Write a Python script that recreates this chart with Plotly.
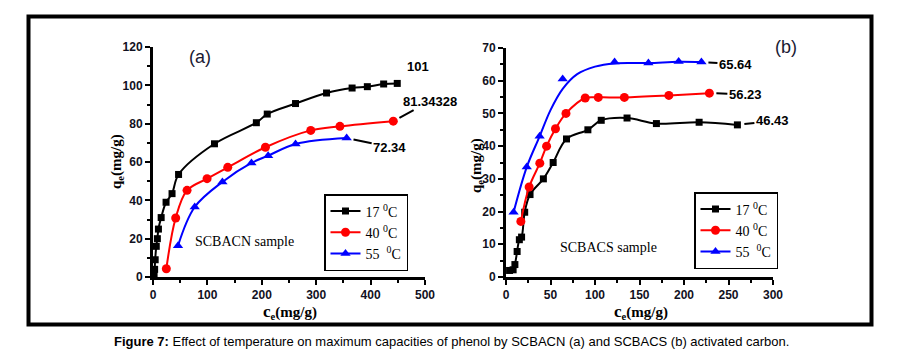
import plotly.graph_objects as go

# ---------------- data: panel (a) SCBACN ----------------
a_ce_17 = [2, 3, 4, 6, 8, 10, 15, 24, 35, 47, 113, 190, 210, 262, 319, 366, 394, 424, 449]
a_qe_17 = [1, 4, 9, 16, 20, 25, 31, 39, 43.5, 53.5, 69.5, 80.5, 85, 90.5, 96, 98.6, 99.3, 100.7, 101]
a_ce_40 = [24.5, 41.7, 62.6, 99.4, 137.4, 206.7, 290, 343.6, 441.7]
a_qe_40 = [4.3, 30.8, 45.2, 51.3, 57.2, 67.7, 76.5, 78.6, 81.3]
a_ce_55 = [46, 76.7, 127.6, 181, 211.7, 262, 356]
a_qe_55 = [16.3, 36.5, 49.6, 59.5, 63.3, 69.4, 72.5]

# ---------------- data: panel (b) SCBACS ----------------
b_ce_17 = [4, 8, 10, 12.5, 15, 17.5, 21, 27, 42, 53, 68, 92, 107, 136, 169, 217, 260]
b_qe_17 = [2, 2.2, 3.8, 7.8, 11.4, 12.2, 19.8, 25.2, 30, 35, 42.2, 45, 47.9, 48.6, 46.9, 47.3, 46.5]
b_ce_40 = [16.7, 26, 38, 45.6, 55.6, 67.4, 89, 103.7, 133, 183, 228.5]
b_qe_40 = [17, 27.5, 34.8, 40, 45.3, 50, 54.7, 54.9, 54.9, 55.5, 56.2]
b_ce_55 = [8.5, 23.3, 37.8, 63.7, 122, 160, 194, 219.6]
b_qe_55 = [19.8, 33.6, 43, 60.5, 65.7, 65.4, 65.9, 65.7]
# fitted curve drawn for 55 C in panel (b)
b_fit_ce_55 = [8.5, 23.3, 37.8, 50, 63.7, 80, 100, 122, 160, 194, 219.6]
b_fit_qe_55 = [19.8, 33.6, 43, 51, 57.5, 62, 64.3, 65.3, 65.4, 65.8, 65.7]

series_names = ["17 <sup>0</sup>C", "40 <sup>0</sup>C", "55  <sup>0</sup>C"]
series_colors = ["#000000", "#ff0000", "#0000ff"]
series_symbols = ["square", "circle", "triangle-up"]
series_sizes = [7, 9, 9]

a_end_labels = ["101", "81.34328", "72.34"]
b_end_labels = ["46.43", "56.23", "65.64"]

W, H = 901, 361
OFF = 8  # page body margin offset
def px(x): return (x - OFF) / W
def py(y): return 1 - (y - OFF) / H

fig = go.Figure()

def add_series(xs, ys, i, xa, ya, legend, show_line=True, showlegend=True):
    fig.add_trace(go.Scatter(
        x=xs, y=ys, xaxis=xa, yaxis=ya, legend=legend,
        mode="lines+markers" if show_line else "markers",
        name=series_names[i], showlegend=showlegend,
        line=dict(color=series_colors[i], width=2, shape="spline", smoothing=1),
        marker=dict(color=series_colors[i], symbol=series_symbols[i], size=series_sizes[i]),
        cliponaxis=False,
    ))

# panel (a)
add_series(a_ce_17, a_qe_17, 0, "x", "y", "legend")
add_series(a_ce_40, a_qe_40, 1, "x", "y", "legend")
add_series(a_ce_55, a_qe_55, 2, "x", "y", "legend")

# panel (b)
add_series(b_ce_17, b_qe_17, 0, "x2", "y2", "legend2")
add_series(b_ce_40, b_qe_40, 1, "x2", "y2", "legend2")
fig.add_trace(go.Scatter(
    x=b_fit_ce_55, y=b_fit_qe_55, xaxis="x2", yaxis="y2", mode="lines",
    line=dict(color=series_colors[2], width=2, shape="spline", smoothing=1),
    showlegend=False, cliponaxis=False, legend="legend2"))
add_series(b_ce_55, b_qe_55, 2, "x2", "y2", "legend2", show_line=False, showlegend=False)
fig.add_trace(go.Scatter(
    x=[None], y=[None], xaxis="x2", yaxis="y2", legend="legend2",
    mode="lines+markers", name=series_names[2],
    line=dict(color=series_colors[2], width=2),
    marker=dict(color=series_colors[2], symbol=series_symbols[2], size=series_sizes[2])))

tickfont = dict(family="Liberation Sans, Arial", size=12, color="#111122")
def axis_common(rng, dtick, minor_dtick, domain, anchor):
    return dict(range=rng, dtick=dtick, domain=domain, anchor=anchor, automargin=False,
                showgrid=False, zeroline=False, showline=True, linecolor="black", linewidth=3,
                ticks="outside", ticklen=5, tickwidth=2, tickcolor="black",
                tickfont=tickfont, tickprefix="<b>", ticksuffix="</b>",
                minor=dict(ticks="outside", ticklen=3, tickwidth=2, tickcolor="black", dtick=minor_dtick),
                fixedrange=True)

legend_style = dict(bgcolor="white", bordercolor="black", borderwidth=1.5,
                    font=dict(family="Liberation Serif, Times New Roman", size=14, color="black"),
                    xanchor="left", yanchor="top", tracegroupgap=0, itemwidth=30,
                    traceorder="normal")

fig.update_layout(
    width=W, height=H, margin=dict(l=0, r=0, t=0, b=0, pad=0, autoexpand=False),
    paper_bgcolor="white", plot_bgcolor="white",
    xaxis=axis_common([0, 500], 100, 50, [px(153), px(425)], "y"),
    yaxis=axis_common([0, 120], 20, 10, [py(277), py(47)], "x"),
    xaxis2=axis_common([0, 300], 50, 25, [px(506), px(773)], "y2"),
    yaxis2=axis_common([0, 70], 10, 5, [py(277), py(48)], "x2"),
    legend=dict(x=px(324), y=py(194), **legend_style),
    legend2=dict(x=px(694), y=py(192), **legend_style),
    showlegend=True,
)

# outer frame
fig.add_shape(type="rect", xref="paper", yref="paper",
              x0=px(28.5), x1=px(871.5), y0=py(324.5), y1=py(16.5),
              line=dict(color="black", width=4), layer="above")

ann = []
def paper_text(text, xc, yc, font, **kw):
    d = dict(text=text, x=px(xc), y=py(yc), xref="paper", yref="paper", showarrow=False,
             xanchor="center", yanchor="middle", font=font)
    d.update(kw)
    ann.append(d)

serif_bold = dict(family="Liberation Serif, Times New Roman", size=15, color="black")
# axis titles
for xc, yc in [(117, 162), (477, 166)]:
    paper_text("<b>q<sub>e</sub>(mg/g)</b>", xc, yc, serif_bold, textangle=-90)
for xc, yc in [(290, 312), (641, 312)]:
    paper_text("<b><span style='font-size:17px'>c</span><sub>e</sub>(mg/g)</b>", xc, yc, serif_bold)
# panel tags
for t, xc, yc in [("(a)", 200, 57), ("(b)", 786, 47)]:
    paper_text(t, xc, yc, dict(family="Liberation Sans, Arial", size=18, color="#1a1a33"))
# sample names
for t, xc, yc in [("SCBACN sample", 245, 241), ("SCBACS sample", 608, 247)]:
    paper_text(t, xc, yc, dict(family="Liberation Serif, Times New Roman", size=14, color="black"))

# end-value labels with short dashed leaders
lab_font = dict(family="Liberation Sans, Arial", size=13, color="black")
ann.append(dict(text="<b>%s</b>" % a_end_labels[0], x=a_ce_17[-1], y=a_qe_17[-1], xref="x", yref="y",
                showarrow=False, xshift=21, yshift=17, font=lab_font))
a_ends = [(a_ce_40, a_qe_40, 37, -20), (a_ce_55, a_qe_55, 43, 9)]
for (xs, ys, axo, ayo), t in zip(a_ends, a_end_labels[1:]):
    ann.append(dict(text="<b>%s</b>" % t, x=xs[-1], y=ys[-1], xref="x", yref="y",
                    ax=axo, ay=ayo, showarrow=True, arrowhead=0, arrowwidth=2, arrowcolor="black",
                    standoff=7, font=lab_font))
b_ends = [(b_ce_17, b_qe_17, 35, -4), (b_ce_40, b_qe_40, 36, 1), (b_ce_55, b_qe_55, 34, 2)]
for (xs, ys, axo, ayo), t in zip(b_ends, b_end_labels):
    ann.append(dict(text="<b>%s</b>" % t, x=xs[-1], y=ys[-1], xref="x2", yref="y2",
                    ax=axo, ay=ayo, showarrow=True, arrowhead=0, arrowwidth=2, arrowcolor="black",
                    standoff=7, font=lab_font))

# caption
paper_text("<b>Figure 7:</b> Effect of temperature on maximum capacities of phenol by SCBACN (a) and SCBACS (b) activated carbon.",
           451, 341, dict(family="Liberation Sans, Arial", size=13, color="black"))

fig.update_layout(annotations=ann)
fig.write_html("out.html")
